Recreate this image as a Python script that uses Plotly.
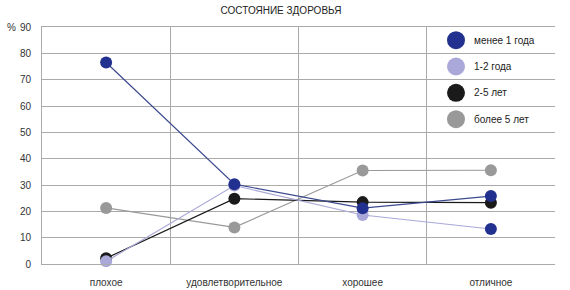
import plotly.graph_objects as go

categories = ["плохое", "удовлетворительное", "хорошее", "отличное"]
series_names = ["менее 1 года", "1-2 года", "2-5 лет", "более 5 лет"]
less_1 = [76.5, 30.3, 21.2, 25.8]
y1_2 = [1.0, 29.8, 18.6, 13.3]
y2_5 = [2.2, 24.8, 23.5, 23.3]
more_5 = [21.3, 13.9, 35.5, 35.6]
y_ticks = [0, 10, 20, 30, 40, 50, 60, 70, 80, 90]

values = [less_1, y1_2, y2_5, more_5]
colors = ["#22318f", "#a9a8d8", "#1a1a1a", "#999999"]
line_colors = ["#3b4a8e", "#a9a8d8", "#1a1a1a", "#999999"]
# in the source, the last marker of "1-2 года" is drawn in dark blue
marker_colors = [
    colors[0],
    [colors[1], colors[1], colors[1], colors[0]],
    colors[2],
    colors[3],
]

font = "Liberation Sans, Arial, sans-serif"
fig = go.Figure()
order = [3, 2, 1, 0]
for i in order:
    fig.add_trace(go.Scatter(
        x=categories, y=values[i], name=series_names[i],
        mode="lines+markers",
        line=dict(color=line_colors[i], width=1.2),
        marker=dict(color=marker_colors[i], size=12),
        cliponaxis=False, showlegend=False,
    ))

# legend drawn inside the last column
legend_y = [85, 75, 65, 55]
for i, name in enumerate(series_names):
    fig.add_shape(type="circle", xref="paper", yref="y",
                  xsizemode="pixel", ysizemode="pixel",
                  xanchor=(456 - 42) / 513, yanchor=legend_y[i],
                  x0=-9, x1=9, y0=-9, y1=9,
                  fillcolor=colors[i], line=dict(width=0))
    fig.add_annotation(x=(472 - 42) / 513, y=legend_y[i], xref="paper", yref="y",
                       text=name, showarrow=False, xanchor="left",
                       font=dict(family=font, size=10, color="#222222"))

fig.add_annotation(x=-37 / 513, y=90, xref="paper", yref="y", text="%",
                   showarrow=False, xanchor="left", yanchor="middle",
                   font=dict(family=font, size=10, color="#333333"))

fig.update_layout(
    width=570, height=290,
    margin=dict(l=42, r=15, t=27, b=26),
    paper_bgcolor="white", plot_bgcolor="white",
    title=dict(text="СОСТОЯНИЕ ЗДОРОВЬЯ", x=281 / 570, xanchor="center",
               y=1 - 10 / 290, yanchor="middle",
               font=dict(family=font, size=10, color="#222222")),
    font=dict(family=font, size=10, color="#333333"),
)
fig.update_xaxes(type="category", tickson="boundaries", showgrid=True,
                 gridcolor="#aaaaaa", gridwidth=1, ticks="",
                 showline=True, linecolor="#aaaaaa", mirror=True,
                 range=[-0.5, 3.5], ticklabelstandoff=9, automargin=False)
fig.update_yaxes(range=[0, 90], tickvals=y_ticks, showgrid=True,
                 gridcolor="#aaaaaa", gridwidth=1, ticks="",
                 showline=True, linecolor="#aaaaaa", zeroline=False,
                 ticklabelstandoff=8, automargin=False)

fig.write_html("out.html")
